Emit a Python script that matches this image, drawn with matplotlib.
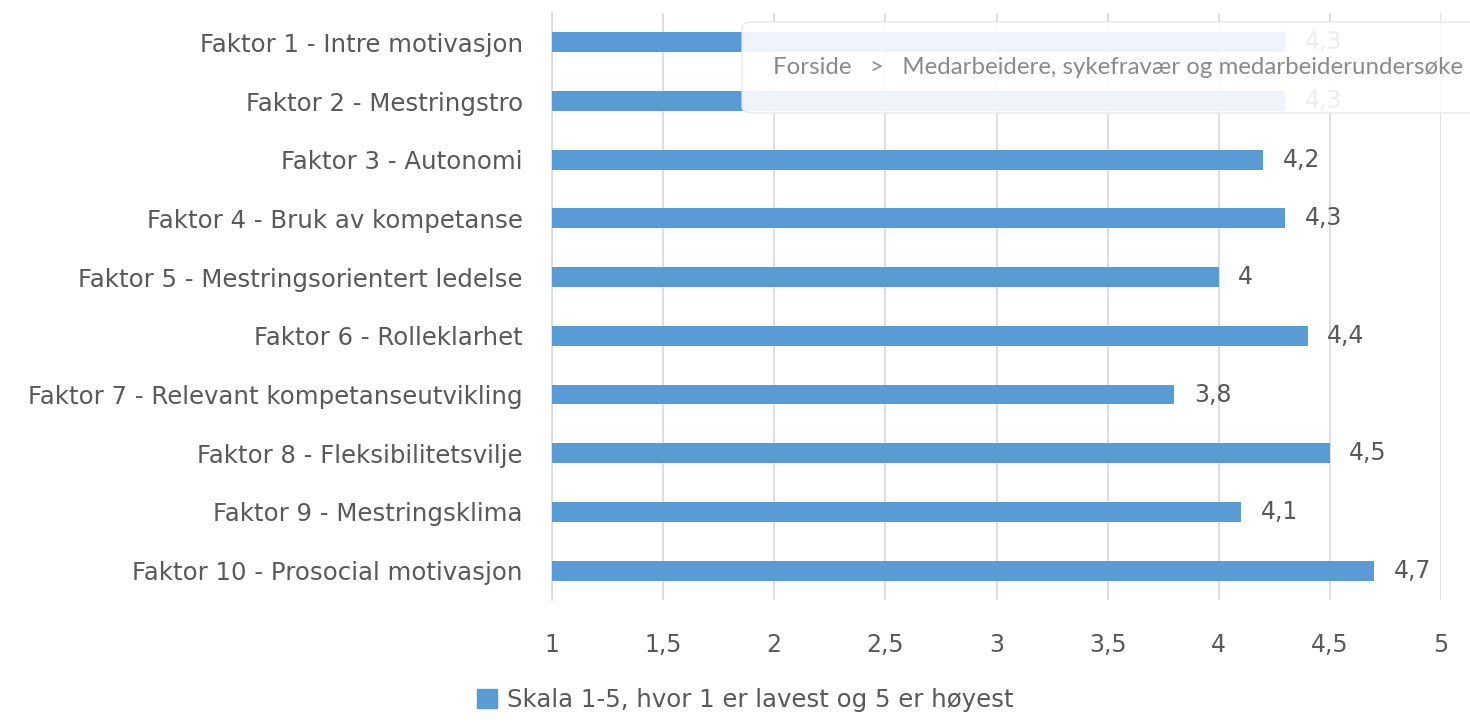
import matplotlib
matplotlib.use("Agg")
import matplotlib.pyplot as plt
from matplotlib.patches import FancyBboxPatch, Patch

categories = [
    "Faktor 1 - Intre motivasjon",
    "Faktor 2 - Mestringstro",
    "Faktor 3 - Autonomi",
    "Faktor 4 - Bruk av kompetanse",
    "Faktor 5 - Mestringsorientert ledelse",
    "Faktor 6 - Rolleklarhet",
    "Faktor 7 - Relevant kompetanseutvikling",
    "Faktor 8 - Fleksibilitetsvilje",
    "Faktor 9 - Mestringsklima",
    "Faktor 10 - Prosocial motivasjon",
]
values = [4.3, 4.3, 4.2, 4.3, 4.0, 4.4, 3.8, 4.5, 4.1, 4.7]
x_ticks = [1, 1.5, 2, 2.5, 3, 3.5, 4, 4.5, 5]
legend_label = "Skala 1-5, hvor 1 er lavest og 5 er høyest"
# the page's breadcrumb is cut at the right edge of the screenshot
breadcrumb = "Forside   >   Medarbeidere, sykefravær og medarbeiderundersøke"

BLUE = "#5B9BD5"
GREY = "#595959"

plt.rcParams["font.family"] = ["DejaVu Sans"]

fig = plt.figure(figsize=(14.7, 7.28), dpi=100)
ax = fig.add_axes([0.3755, 0.176, 0.6048, 0.806])

y = list(range(len(categories)))
ax.barh(y, [v - 1 for v in values], left=1, height=0.34, color=BLUE, zorder=3)
for yi, v in zip(y, values):
    txt = f"{v:g}".replace(".", ",")
    ax.annotate(txt, (v, yi), xytext=(14, 0), textcoords="offset points",
                va="center", ha="left", fontsize=17, color=GREY)

ax.set_xlim(1, 5)
ax.set_ylim(len(categories) - 0.5, -0.5)
ax.set_xticks(x_ticks)
ax.set_xticklabels([f"{t:g}".replace(".", ",") for t in x_ticks])
ax.set_yticks(y)
ax.set_yticklabels(categories)
ax.tick_params(axis="x", length=0, pad=24, labelsize=17, labelcolor=GREY)
ax.tick_params(axis="y", length=0, pad=21, labelsize=17.6, labelcolor=GREY)
ax.grid(axis="x", color="#D9D9D9", linewidth=1.2, zorder=0)
for side in ["top", "right", "bottom"]:
    ax.spines[side].set_visible(False)
ax.spines["left"].set_color("#D9D9D9")
ax.spines["left"].set_linewidth(1.2)

fig.legend(handles=[Patch(color=BLUE)], labels=[legend_label], loc="lower center",
           bbox_to_anchor=(0.507, -0.008), frameon=False, fontsize=17.6,
           labelcolor=GREY, handlelength=0.8, handleheight=0.8, handletextpad=0.4)

# breadcrumb overlay sitting on top of the chart
box = FancyBboxPatch((742 / 1470, 1 - 113 / 728), 0.5, 91 / 728,
                     boxstyle="round,pad=0,rounding_size=0.008",
                     transform=fig.transFigure, facecolor="white", alpha=0.9,
                     edgecolor="#E6E6E6", linewidth=1.0, zorder=10)
fig.patches.append(box)
fig.text(773 / 1470, 1 - 68 / 728, breadcrumb, fontsize=17.3, color="#8A8A8A",
         va="center", ha="left", zorder=11, family=["Lato", "DejaVu Sans"])

fig.savefig("out.png", dpi=100)
